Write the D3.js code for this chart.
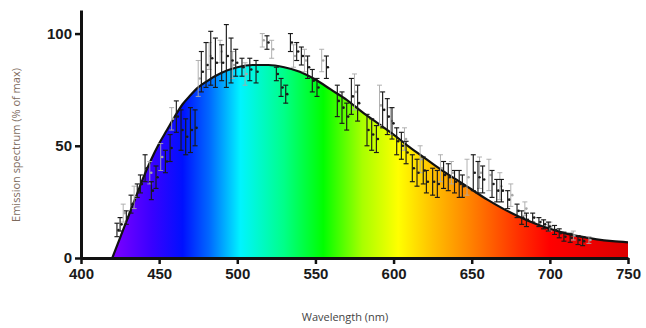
<!DOCTYPE html>
<html>
<head>
<meta charset="utf-8">
<script src="https://cdn.jsdelivr.net/npm/d3@7"></script>
<style>
  body { margin: 0; background: #fff; }
  svg { display: block; }
</style>
</head>
<body>
<svg id="chart" width="646" height="328"></svg>
<script>
// fitted emission curve (% of max)
const fitNm  = [420, 425, 430, 435, 440, 445, 450, 455, 460, 465, 470, 475, 480, 490, 500, 510, 520, 530, 540, 550, 560, 570, 580, 590, 600, 610, 620, 630, 640, 650, 660, 670, 680, 690, 700, 710, 720, 730, 740, 750];
const fitVal = [0, 9, 18, 27, 36, 44, 51, 57, 63, 68.5, 72.5, 76, 78.5, 82.5, 85, 86, 86, 85, 83, 79.5, 75, 70.5, 65, 60, 55, 49.5, 44.5, 39.5, 35, 30.5, 26, 22, 18.5, 15.5, 13, 11, 9.5, 8.3, 7.5, 7];

// measured points, dark series
const blackNm  = [423, 425, 429, 432, 436, 438, 441, 445, 448, 454, 457, 461, 464, 467, 470, 473, 477, 480, 483, 486, 490, 493, 496, 499, 503, 508, 512, 519, 525, 528, 531, 534, 538, 541, 545, 548, 551, 557, 564, 567, 570, 573, 577, 583, 586, 589, 593, 596, 599, 602, 605, 608, 612, 615, 619, 621, 625, 628, 632, 635, 639, 642, 644, 651, 654, 657, 663, 666, 669, 673, 679, 682, 685, 689, 693, 696, 699, 703, 706, 709, 713, 718, 721];
const blackVal = [12.5, 15, 18, 24, 30, 33, 40, 30, 36, 43, 49, 63, 57, 54, 57, 58, 83, 86, 89, 87, 87, 90, 88, 87, 85, 84, 83, 96, 82, 76, 73, 96, 92, 90, 85, 79, 76, 85, 70, 67, 63, 72, 69, 57, 55, 53, 66, 63, 60, 52, 50, 47, 40, 38, 39, 34, 34, 33, 37, 36, 34, 33, 32, 38, 36, 35, 33, 30, 30, 26, 21, 18, 17, 18, 16, 15, 14, 12.5, 11, 9.5, 9, 8, 7.5];
const blackErr = [3, 3, 3, 4, 3, 4, 6, 4, 5, 5, 6, 7, 9, 8, 10, 8, 9, 10, 12, 11, 8, 14, 10, 6, 4, 5, 5, 3, 3, 4, 4, 4, 4, 4, 5, 5, 4, 5, 7, 7, 6, 8, 8, 7, 7, 6, 8, 8, 7, 6, 6, 5, 6, 6, 6, 5, 6, 6, 6, 6, 5, 6, 5, 8, 7, 6, 6, 5, 5, 4, 3, 3, 3, 2, 2, 2, 2, 2, 2, 2, 2, 2, 2];

// measured points, light series
const grayNm  = [427, 434, 444, 451, 458, 475, 482, 489, 497, 505, 516, 522, 536, 543, 554, 575, 591, 598, 607, 617, 630, 637, 647, 655, 661, 668, 675, 684, 700, 715, 725];
const grayVal = [20, 27, 38, 45, 62, 80, 90, 92, 86, 82, 97, 93, 90, 88, 88, 74, 68, 61, 53, 44, 40, 38, 36, 38, 37, 32, 28, 22, 14, 10, 8];
const grayErr = [4, 5, 5, 6, 5, 8, 6, 5, 6, 5, 3, 4, 5, 5, 5, 8, 9, 6, 5, 6, 6, 5, 8, 7, 7, 6, 5, 3, 2, 2, 1.5];

const xTicks = [400, 450, 500, 550, 600, 650, 700, 750];
const yTicks = [0, 50, 100];

// spectrum colour stops along wavelength
const specNm  = [420, 445, 465, 482, 502, 530, 555, 580, 603, 625, 650, 680, 700, 750];
const specCol = ["#7f00ff", "#3a00ff", "#0010ff", "#0068ff", "#00f4ff", "#00ff88", "#00ff00", "#a8ff00", "#ffff00", "#ffc000", "#ff8000", "#ff3000", "#ff0000", "#dc0000"];

const svg = d3.select("#chart");

const x = d3.scaleLinear().domain([400, 750]).range([81, 628]);
const y = d3.scaleLinear().domain([0, 110.5]).range([258, 10]);

const fit = fitNm.map((d, i) => ({ nm: d, v: fitVal[i] }));

const grad = svg.append("defs").append("linearGradient")
  .attr("id", "spec")
  .attr("gradientUnits", "userSpaceOnUse")
  .attr("x1", x(420)).attr("x2", x(750))
  .attr("y1", 0).attr("y2", 0);
grad.selectAll("stop")
  .data(specNm)
  .enter().append("stop")
  .attr("offset", d => (d - 420) / (750 - 420))
  .attr("stop-color", (d, i) => specCol[i]);

const area = d3.area()
  .x(d => x(d.nm))
  .y0(y(0))
  .y1(d => y(d.v))
  .curve(d3.curveMonotoneX);

svg.append("path")
  .datum(fit)
  .attr("d", area)
  .attr("fill", "url(#spec)");

const line = d3.line()
  .x(d => x(d.nm))
  .y(d => y(d.v))
  .curve(d3.curveMonotoneX);

svg.append("path")
  .datum(fit)
  .attr("d", line)
  .attr("fill", "none")
  .attr("stroke", "#111")
  .attr("stroke-width", 2.2);

function drawSeries(nm, val, err, colour, width) {
  const pts = nm.map((d, i) => ({ nm: d, v: val[i], e: err[i] }));
  const g = svg.append("g").attr("stroke", colour).attr("stroke-width", width);
  const bar = g.selectAll("g").data(pts).enter().append("g");
  bar.append("line")
    .attr("x1", d => x(d.nm)).attr("x2", d => x(d.nm))
    .attr("y1", d => y(d.v + d.e)).attr("y2", d => y(d.v - d.e));
  bar.append("line")
    .attr("x1", d => x(d.nm) - 2.5).attr("x2", d => x(d.nm) + 2.5)
    .attr("y1", d => y(d.v + d.e)).attr("y2", d => y(d.v + d.e));
  bar.append("line")
    .attr("x1", d => x(d.nm) - 2.5).attr("x2", d => x(d.nm) + 2.5)
    .attr("y1", d => y(d.v - d.e)).attr("y2", d => y(d.v - d.e));
  bar.append("circle")
    .attr("cx", d => x(d.nm) + 1.5).attr("cy", d => y(d.v))
    .attr("r", 1.3)
    .attr("stroke", "none")
    .attr("fill", colour);
}

drawSeries(grayNm, grayVal, grayErr, "#a8a8a8", 0.9);
drawSeries(blackNm, blackVal, blackErr, "#1a1a1a", 1.15);

// axes
const xAxis = svg.append("g")
  .attr("transform", "translate(0," + y(0) + ")")
  .call(d3.axisBottom(x).tickValues(xTicks).tickSize(6).tickSizeOuter(0).tickPadding(4));

const yAxis = svg.append("g")
  .attr("transform", "translate(" + x(400) + ",0)")
  .call(d3.axisLeft(y).tickValues(yTicks).tickSize(6).tickSizeOuter(0).tickPadding(3));

[xAxis, yAxis].forEach(a => {
  a.select(".domain").attr("stroke", "#111").attr("stroke-width", 3);
  a.selectAll(".tick line").attr("stroke", "#111").attr("stroke-width", 2.5);
  a.selectAll(".tick text")
    .attr("fill", "#1a1a1a")
    .style("font-family", "Arial, 'Liberation Sans', sans-serif")
    .style("font-weight", "bold")
    .style("font-size", "15px");
});

svg.append("text")
  .attr("x", 345).attr("y", 321)
  .attr("text-anchor", "middle")
  .attr("fill", "#444")
  .style("font-family", "'Open Sans', sans-serif")
  .style("font-size", "11px")
  .text("Wavelength (nm)");

svg.append("text")
  .attr("transform", "translate(20,145) rotate(-90)")
  .attr("text-anchor", "middle")
  .attr("fill", "#7d6a5c")
  .style("font-family", "'Open Sans', sans-serif")
  .style("font-size", "11px")
  .text("Emission spectrum (% of max)");
</script>
</body>
</html>
